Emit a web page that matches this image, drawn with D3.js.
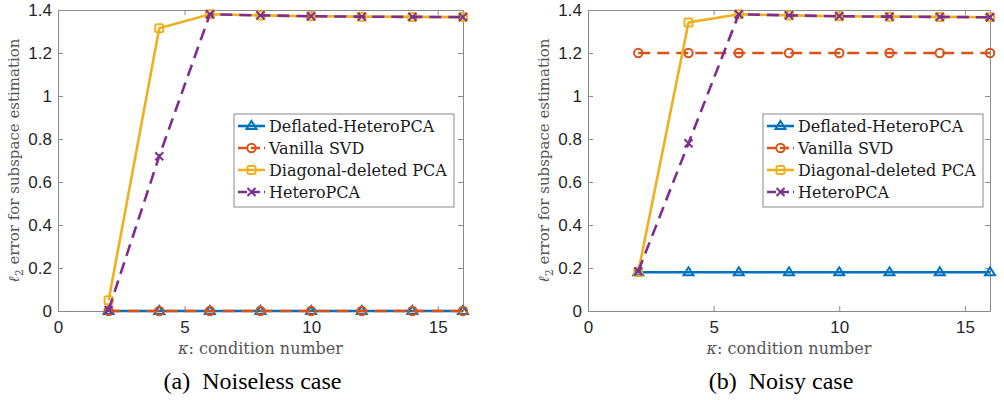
<!DOCTYPE html>
<html>
<head>
<meta charset="utf-8">
<script src="https://cdn.jsdelivr.net/npm/d3@7"></script>
<style>
  body { margin: 0; background: #fff; }
  svg { display: block; }
</style>
</head>
<body>
<div class="chart"></div>
<script>
// condition numbers on the x axis
const kappa = [2, 4, 6, 8, 10, 12, 14, 16];
const seriesNames = ["Deflated-HeteroPCA", "Vanilla SVD", "Diagonal-deleted PCA", "HeteroPCA"];

// (a) noiseless case
const noiselessDeflated = [0, 0, 0, 0, 0, 0, 0, 0];
const noiselessVanilla = [0, 0, 0, 0, 0, 0, 0, 0];
const noiselessDiagonal = [0.05, 1.315, 1.38, 1.375, 1.371, 1.369, 1.368, 1.367];
const noiselessHetero = [0.005, 0.72, 1.38, 1.375, 1.371, 1.369, 1.368, 1.367];

// (b) noisy case
const noisyDeflated = [0.18, 0.18, 0.18, 0.18, 0.18, 0.18, 0.18, 0.18];
const noisyVanilla = [1.2, 1.2, 1.2, 1.2, 1.2, 1.2, 1.2, 1.2];
const noisyDiagonal = [0.18, 1.342, 1.38, 1.375, 1.371, 1.369, 1.368, 1.366];
const noisyHetero = [0.185, 0.78, 1.38, 1.375, 1.371, 1.369, 1.368, 1.366];

const xTicks = [0, 5, 10, 15];
const yTicks = [0, 0.2, 0.4, 0.6, 0.8, 1, 1.2, 1.4];

const colors = ["#0072BD", "#D95319", "#EDB120", "#7E2F8E"];
const dashes = [null, "12,7", null, "12,7"];
const markers = ["triangle", "circle", "square", "cross"];

const SANS = '"Liberation Sans"';
const CM = '"DejaVu Serif"';        // stand-in for the latex font
const TIMES = '"Liberation Serif"';

const svg = d3.select(".chart").append("svg")
  .attr("width", 1004)
  .attr("height", 400);

function drawMarker(g, type, color, x, y) {
  if (type == "triangle") {
    g.append("path")
      .attr("d", `M${x},${y - 5}L${x + 5},${y + 3}L${x - 5},${y + 3}Z`)
      .attr("fill", "none").attr("stroke", color).attr("stroke-width", 2);
  } else if (type == "circle") {
    g.append("circle").attr("cx", x).attr("cy", y).attr("r", 4.2)
      .attr("fill", "none").attr("stroke", color).attr("stroke-width", 2);
  } else if (type == "square") {
    g.append("rect").attr("x", x - 4).attr("y", y - 4)
      .attr("width", 8).attr("height", 8).attr("rx", 1.5)
      .attr("fill", "none").attr("stroke", color).attr("stroke-width", 2);
  } else {
    g.append("path")
      .attr("d", `M${x - 4},${y - 4}L${x + 4},${y + 4}M${x - 4},${y + 4}L${x + 4},${y - 4}`)
      .attr("stroke", color).attr("stroke-width", 2);
  }
}

function drawPanel(opts) {
  const { left, right, top, bottom, series, caption, legendX } = opts;

  const x = d3.scaleLinear().domain([0, 16]).range([left, right]);
  const y = d3.scaleLinear().domain([0, 1.4]).range([bottom, top]);

  const g = svg.append("g");

  // axes box with inward ticks on all four sides (matlab look)
  const axBottom = g.append("g")
    .attr("transform", `translate(0,${bottom})`)
    .call(d3.axisBottom(x).tickValues(xTicks).tickSizeInner(-5).tickSizeOuter(0).tickPadding(10));
  const axTop = g.append("g")
    .attr("transform", `translate(0,${top})`)
    .call(d3.axisTop(x).tickValues(xTicks).tickSizeInner(-5).tickSizeOuter(0).tickFormat(""));
  const axLeft = g.append("g")
    .attr("transform", `translate(${left},0)`)
    .call(d3.axisLeft(y).tickValues(yTicks).tickSizeInner(-5).tickSizeOuter(0).tickPadding(6)
      .tickFormat(d3.format("~g")));
  const axRight = g.append("g")
    .attr("transform", `translate(${right},0)`)
    .call(d3.axisRight(y).tickValues(yTicks).tickSizeInner(-5).tickSizeOuter(0).tickFormat(""));

  [axBottom, axTop, axLeft, axRight].forEach(a => {
    a.select(".domain").attr("stroke", "#8a8a8a").attr("stroke-width", 1);
    a.selectAll(".tick line").attr("stroke", "#8a8a8a");
    a.selectAll("text")
      .style("font-family", SANS)
      .style("font-size", "17px")
      .attr("fill", "#262626");
  });

  // series lines + markers, in plot order
  const line = d3.line().x((d, i) => x(kappa[i])).y(d => y(d));
  series.forEach((vals, s) => {
    const sg = g.append("g");
    sg.append("path")
      .datum(vals)
      .attr("d", line)
      .attr("fill", "none")
      .attr("stroke", colors[s])
      .attr("stroke-width", 2.6)
      .attr("stroke-dasharray", dashes[s]);
    vals.forEach((v, i) => drawMarker(sg, markers[s], colors[s], x(kappa[i]), y(v)));
  });

  // axis labels
  const xl = g.append("text")
    .attr("x", (left + right) / 2)
    .attr("y", bottom + 43)
    .attr("text-anchor", "middle")
    .style("font-family", CM)
    .style("font-size", "16px")
    .attr("fill", "#555");
  xl.append("tspan").style("font-style", "italic").text("κ");
  xl.append("tspan").text(": condition number");

  const yl = g.append("text")
    .attr("transform", `translate(${left - 39},${(top + bottom) / 2}) rotate(-90)`)
    .attr("text-anchor", "middle")
    .style("font-family", CM)
    .style("font-size", "15px")
    .attr("fill", "#555");
  yl.append("tspan").style("font-style", "italic").text("ℓ");
  yl.append("tspan").style("font-size", "11px").attr("dy", 4).text("2");
  yl.append("tspan").attr("dy", -4).text(" error for subspace estimation");

  // caption (keep the wide gap after the letter)
  g.append("text")
    .attr("x", (left + right) / 2 - 8)
    .attr("y", 389)
    .attr("text-anchor", "middle")
    .style("font-family", TIMES)
    .style("font-size", "24px")
    .style("white-space", "pre")
    .attr("fill", "#000")
    .text(caption);

  // legend
  const lg = g.append("g");
  lg.append("rect")
    .attr("x", legendX).attr("y", 114)
    .attr("width", 220).attr("height", 93)
    .attr("fill", "#fff").attr("stroke", "#8a8a8a").attr("stroke-width", 1);
  seriesNames.forEach((name, s) => {
    const ry = 126 + s * 22;
    lg.append("line")
      .attr("x1", legendX + 4).attr("x2", legendX + 31)
      .attr("y1", ry).attr("y2", ry)
      .attr("stroke", colors[s]).attr("stroke-width", 2.6)
      .attr("stroke-dasharray", dashes[s] ? "9,4" : null);
    drawMarker(lg, markers[s], colors[s], legendX + 17.5, ry);
    lg.append("text")
      .attr("x", legendX + 35).attr("y", ry + 6)
      .style("font-family", CM)
      .style("font-size", "16px")
      .attr("fill", "#1a1a1a")
      .text(name);
  });
}

drawPanel({
  left: 58, right: 463, top: 10, bottom: 311,
  series: [noiselessDeflated, noiselessVanilla, noiselessDiagonal, noiselessHetero],
  caption: "(a)  Noiseless case",
  legendX: 234
});

drawPanel({
  left: 588, right: 990, top: 10, bottom: 311,
  series: [noisyDeflated, noisyVanilla, noisyDiagonal, noisyHetero],
  caption: "(b)  Noisy case",
  legendX: 763
});
</script>
</body>
</html>
